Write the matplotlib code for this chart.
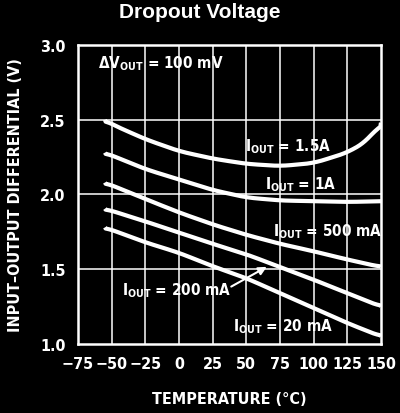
import matplotlib
matplotlib.use("Agg")
import matplotlib.pyplot as plt
import numpy as np

plt.rcParams['font.family'] = ['DejaVu Sans']
plt.rcParams['font.stretch'] = 'condensed'

# Data
t_15a = [-55, -50, -25, 0, 25, 50, 75, 100, 125, 140, 150]
v_15a = [2.50, 2.47, 2.37, 2.29, 2.24, 2.205, 2.19, 2.21, 2.28, 2.36, 2.48]

t_1a = [-55, -25, 0, 25, 50, 75, 100, 125, 150]
v_1a = [2.28, 2.17, 2.10, 2.03, 1.98, 1.96, 1.955, 1.95, 1.955]

t_500 = [-55, -25, 0, 25, 50, 75, 100, 125, 150]
v_500 = [2.08, 1.97, 1.88, 1.80, 1.73, 1.67, 1.62, 1.565, 1.515]

t_200 = [-55, -25, 0, 25, 50, 75, 100, 125, 150]
v_200 = [1.905, 1.82, 1.745, 1.67, 1.60, 1.515, 1.43, 1.34, 1.25]

t_20 = [-55, -25, 0, 25, 50, 75, 100, 125, 150]
v_20 = [1.78, 1.68, 1.61, 1.52, 1.44, 1.34, 1.24, 1.14, 1.05]

x_ticks = [-75, -50, -25, 0, 25, 50, 75, 100, 125, 150]
y_ticks = [1.0, 1.5, 2.0, 2.5, 3.0]

W = 'white'
fig = plt.figure(figsize=(4.0, 4.14), dpi=100, facecolor='black')
ax = fig.add_axes([0.195, 0.1667, 0.7575, 0.7222], facecolor='black')
ax.set_xlim(-75, 150)
ax.set_ylim(1.0, 3.0)
ax.set_xticks(x_ticks)
ax.set_yticks(y_ticks)
ax.set_xticklabels([str(v).replace('-', '\u2212') for v in x_ticks])
ax.set_yticklabels([f'{v:.1f}' for v in y_ticks])
ax.tick_params(length=0, colors=W, labelsize=11.5, pad=9)
for lab in ax.get_xticklabels() + ax.get_yticklabels():
    lab.set_fontweight('bold')
    lab.set_fontstretch('condensed')

# grid lines at tick positions
for xv in x_ticks[1:-1]:
    ax.axvline(xv, color=W, linewidth=1.1, zorder=1)
for yv in y_ticks[1:-1]:
    ax.axhline(yv, color=W, linewidth=1.1, zorder=1)
for s in ax.spines.values():
    s.set_color(W)
    s.set_linewidth(1.8)

def smooth(t, v):
    t = np.asarray(t, float); v = np.asarray(v, float)
    tt = np.linspace(t[0], t[-1], 400)
    vv = np.interp(tt, t, v)
    k = 15
    pad = np.concatenate([np.full(k, vv[0]), vv, np.full(k, vv[-1])])
    ker = np.ones(2 * k + 1) / (2 * k + 1)
    vs = np.convolve(pad, ker, mode='same')[k:-k]
    vs[0] = vv[0]; vs[-1] = vv[-1]
    return tt, vs

for t, v in [(t_15a, v_15a), (t_1a, v_1a), (t_500, v_500), (t_200, v_200), (t_20, v_20)]:
    tt, vs = smooth(t, v)
    ax.plot(tt, vs, color=W, linewidth=3, solid_capstyle='butt', zorder=3)

fs = 11
kw = dict(color=W, fontsize=fs, fontweight='bold', fontstretch='condensed', va='center', ha='left', zorder=4)
ax.text(-60, 2.88, 'ΔV$_{\\mathregular{OUT}}$ = 100 mV', **kw)
ax.text(49, 2.33, 'I$_{\\mathregular{OUT}}$ = 1.5A', **kw)
ax.text(64, 2.07, 'I$_{\\mathregular{OUT}}$ = 1A', **kw)
ax.text(70, 1.76, 'I$_{\\mathregular{OUT}}$ = 500 mA', **kw)
ax.text(-42, 1.365, 'I$_{\\mathregular{OUT}}$ = 200 mA', **kw)
ax.text(40, 1.12, 'I$_{\\mathregular{OUT}}$ = 20 mA', **kw)
ax.annotate('', xy=(67, 1.525), xytext=(37, 1.375),
            arrowprops=dict(arrowstyle='-|>', color=W, lw=1.5, mutation_scale=12), zorder=4)

ax.set_xlabel('TEMPERATURE (°C)', color=W, fontsize=11.5, fontweight='bold',
              fontstretch='condensed', labelpad=14)
ax.set_ylabel('INPUT\u2013OUTPUT DIFFERENTIAL (V)', color=W, fontsize=11.5, fontweight='bold',
              fontstretch='condensed', labelpad=12)
fig.text(0.5, 0.993, 'Dropout Voltage', color=W, fontsize=15, fontweight='bold',
         ha='center', va='top', family=['Liberation Sans', 'DejaVu Sans'], fontstretch='normal')

fig.savefig('out.png', dpi=100, facecolor='black')
